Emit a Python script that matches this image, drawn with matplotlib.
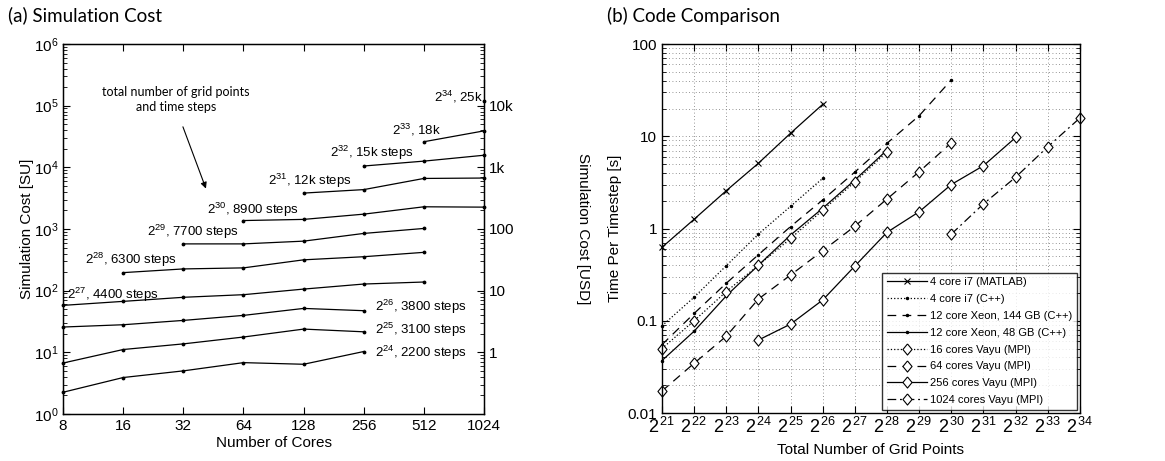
import math
import matplotlib
matplotlib.use('Agg')
import matplotlib.pyplot as plt
from matplotlib.ticker import FixedLocator, FuncFormatter, LogLocator, NullFormatter

plt.rcParams['font.family'] = ['Liberation Sans', 'DejaVu Sans']
plt.rcParams['mathtext.fontset'] = 'custom'
plt.rcParams['mathtext.rm'] = 'Liberation Sans'
plt.rcParams['mathtext.it'] = 'Liberation Sans:italic'
plt.rcParams['mathtext.bf'] = 'Liberation Sans:bold'

# ---------------- (a) simulation cost data ----------------
cores = [8, 16, 32, 64, 128, 256, 512, 1024]

cost_2_24 = [2.25, 3.9, 5.0, 6.8, 6.4, 10.3]          # 8 .. 256
cost_2_25 = [6.7, 11.1, 13.7, 17.7, 23.8, 21.5]       # 8 .. 256
cost_2_26 = [25.7, 28, 32.9, 39.7, 51.5, 47.3]        # 8 .. 256
cost_2_27 = [57.7, 67, 78, 86, 106, 128, 138]         # 8 .. 512
cost_2_28 = [196, 225, 234, 316, 355, 418]            # 16 .. 512
cost_2_29 = [573, 573, 635, 847, 1020]                # 32 .. 512
cost_2_30 = [1370, 1430, 1740, 2290, 2260]            # 64 .. 1024
cost_2_31 = [3820, 4350, 6600, 6700]                  # 128 .. 1024
cost_2_32 = [10500, 12600, 15700]                     # 256 .. 1024
cost_2_33 = [26000, 39000]                            # 512 .. 1024
cost_2_34 = [118000]                                  # 1024

# index of the first core count for each series
cost_series = [
    (0, cost_2_24), (0, cost_2_25), (0, cost_2_26), (0, cost_2_27),
    (1, cost_2_28), (2, cost_2_29), (3, cost_2_30), (4, cost_2_31),
    (5, cost_2_32), (6, cost_2_33), (7, cost_2_34),
]

cost_labels = [
    r'$2^{34}$, 25k', r'$2^{33}$, 18k', r'$2^{32}$, 15k steps',
    r'$2^{31}$, 12k steps', r'$2^{30}$, 8900 steps', r'$2^{29}$, 7700 steps',
    r'$2^{28}$, 6300 steps', r'$2^{27}$, 4400 steps', r'$2^{26}$, 3800 steps',
    r'$2^{25}$, 3100 steps', r'$2^{24}$, 2200 steps',
]
# label anchor points (cores, SU)
label_x = [1010, 356, 174, 85, 42, 21, 10.3, 8.35, 292, 292, 292]
label_y = [1.37e5, 3.98e4, 1.70e4, 6.0e3, 2.07e3, 8.9e2, 3.1e2, 8.6e1, 5.5e1, 2.32e1, 9.93]
label_ha = ['right', 'left', 'left', 'left', 'left', 'left', 'left', 'left', 'left', 'left', 'left']

usd_ticks = [1, 10, 100, 1000, 10000]
usd_labels = ['1', '10', '100', '1k', '10k']

# ---------------- (b) code comparison data ----------------
exp_matlab = [21, 22, 23, 24, 25, 26]
t_matlab = [0.625, 1.26, 2.57, 5.1, 10.8, 22.2]

exp_i7 = [21, 22, 23, 24, 25, 26]
t_i7 = [0.088, 0.18, 0.395, 0.87, 1.74, 3.5]

exp_xeon144 = [21, 22, 23, 24, 25, 26, 27, 28, 29, 30]
t_xeon144 = [0.055, 0.12, 0.255, 0.52, 1.05, 2.04, 4.1, 8.4, 16.7, 40.8]

exp_xeon48 = [21, 22, 23, 24, 25, 26, 27, 28]
t_xeon48 = [0.037, 0.077, 0.186, 0.40, 0.85, 1.66, 3.36, 7.1]

exp_v16 = [21, 22, 23, 24, 25, 26, 27, 28]
t_v16 = [0.05, 0.10, 0.207, 0.40, 0.78, 1.58, 3.2, 6.8]

exp_v64 = [21, 22, 23, 24, 25, 26, 27, 28, 29, 30]
t_v64 = [0.0173, 0.0346, 0.068, 0.172, 0.313, 0.575, 1.06, 2.09, 4.13, 8.5]

exp_v256 = [24, 25, 26, 27, 28, 29, 30, 31, 32]
t_v256 = [0.0618, 0.092, 0.168, 0.392, 0.91, 1.52, 3.0, 4.8, 9.7]

exp_v1024 = [30, 31, 32, 33, 34]
t_v1024 = [0.87, 1.85, 3.6, 7.7, 15.8]

legend_labels = ['4 core i7 (MATLAB)', '4 core i7 (C++)', '12 core Xeon, 144 GB (C++)',
                 '12 core Xeon, 48 GB (C++)', '16 cores Vayu (MPI)', '64 cores Vayu (MPI)',
                 '256 cores Vayu (MPI)', '1024 cores Vayu (MPI)']

grid_exps = list(range(21, 35))
time_ticks = [0.01, 0.1, 1, 10, 100]
time_tick_labels = ['0.01', '0.1', '1', '10', '100']

fig = plt.figure(figsize=(11.65, 4.61), dpi=100)

# ======================= panel (a) =======================
ax1 = fig.add_axes([0.0541, 0.102, 0.3614, 0.8026])
lw = 0.9
for start, vals in cost_series:
    xs = cores[start:start + len(vals)]
    ax1.plot(xs, vals, '-', color='k', lw=lw, marker='.', ms=3.5, clip_on=False)

ax1.set_xscale('log', base=2)
ax1.set_yscale('log')
ax1.set_xlim(8, 1024)
ax1.set_ylim(1, 1e6)
ax1.xaxis.set_major_locator(FixedLocator(cores))
ax1.xaxis.set_major_formatter(FuncFormatter(lambda v, p: '%d' % v))
ax1.xaxis.set_minor_locator(FixedLocator([]))
ax1.yaxis.set_major_locator(LogLocator(base=10, numticks=10))
ax1.yaxis.set_minor_locator(LogLocator(base=10, subs=range(2, 10), numticks=20))
ax1.yaxis.set_minor_formatter(NullFormatter())
ax1.tick_params(which='both', direction='in', top=True, right=False, labelsize=11)
ax1.tick_params(which='major', length=5, width=0.8)
ax1.tick_params(which='minor', length=3, width=0.6)
for s in ax1.spines.values():
    s.set_linewidth(1.0)
ax1.set_xlabel('Number of Cores', fontsize=11, labelpad=2)
ax1.set_ylabel('Simulation Cost [SU]', fontsize=11, labelpad=0)

for txt, x, y, ha in zip(cost_labels, label_x, label_y, label_ha):
    ax1.text(x, y, txt, fontsize=9.5, ha=ha, va='center')

ax1.annotate('', xy=(42, 4.1e3), xytext=(31.5, 5.0e4),
             arrowprops=dict(arrowstyle='-|>', color='k', lw=0.8, mutation_scale=9))
ax1.text(29.3, 1.28e5, 'total number of grid points\nand time steps', fontsize=9,
         family=['Lato', 'DejaVu Sans'], ha='center', va='center', linespacing=1.3)

ax1b = ax1.twinx()
ax1b.set_yscale('log')
ax1b.set_ylim(0.1, 1e5)
ax1b.yaxis.set_major_locator(FixedLocator(usd_ticks))
ax1b.yaxis.set_major_formatter(FuncFormatter(
    lambda v, p: usd_labels[usd_ticks.index(v)] if v in usd_ticks else ''))
ax1b.yaxis.set_minor_locator(LogLocator(base=10, subs=range(2, 10), numticks=20))
ax1b.yaxis.set_minor_formatter(NullFormatter())
ax1b.tick_params(which='both', direction='in', labelsize=11)
ax1b.tick_params(which='major', length=5, width=0.8)
ax1b.tick_params(which='minor', length=3, width=0.6)
ax1b.set_ylabel('Simulation Cost [USD]', fontsize=11, rotation=270, va='center')
ax1b.yaxis.set_label_coords(1.235, 0.5)

# ======================= panel (b) =======================
ax2 = fig.add_axes([0.5682, 0.1041, 0.3588, 0.8004])
ax2.set_xscale('log', base=2)
ax2.set_yscale('log')


def p2(e):
    return [2.0 ** k for k in e]


# MATLAB-like diamond, a bit taller than wide
diamond = [(0, 1), (0.82, 0), (0, -1), (-0.82, 0), (0, 1)]

ax2.plot(p2(exp_matlab), t_matlab, '-', color='k', lw=lw, marker='x', ms=5, mew=0.8,
         label=legend_labels[0], clip_on=False)
ax2.plot(p2(exp_i7), t_i7, ':', color='k', lw=lw, marker='.', ms=3,
         label=legend_labels[1], clip_on=False)
ax2.plot(p2(exp_xeon144), t_xeon144, color='k', lw=lw, ls=(0, (7, 5)), marker='.', ms=3,
         label=legend_labels[2], clip_on=False)
ax2.plot(p2(exp_xeon48), t_xeon48, '-', color='k', lw=lw, marker='.', ms=3,
         label=legend_labels[3], clip_on=False)
dkw = dict(marker=diamond, ms=8, mfc='white', mec='k', mew=0.8, color='k', lw=lw, clip_on=False)
ax2.plot(p2(exp_v16), t_v16, ls=':', label=legend_labels[4], **dkw)
ax2.plot(p2(exp_v64), t_v64, ls=(0, (7, 5)), label=legend_labels[5], **dkw)
ax2.plot(p2(exp_v256), t_v256, ls='-', label=legend_labels[6], **dkw)
ax2.plot(p2(exp_v1024), t_v1024, ls=(0, (7, 3, 1.5, 3)), label=legend_labels[7], **dkw)

ax2.set_xlim(2 ** 21, 2 ** 34)
ax2.set_ylim(0.01, 100)
ax2.xaxis.set_major_locator(FixedLocator(p2(grid_exps)))
ax2.xaxis.set_major_formatter(FuncFormatter(lambda v, p: r'$2^{\,%d}$' % round(math.log2(v))))
ax2.xaxis.set_minor_locator(FixedLocator([]))
ax2.yaxis.set_major_locator(FixedLocator(time_ticks))
ax2.yaxis.set_major_formatter(FuncFormatter(
    lambda v, p: time_tick_labels[time_ticks.index(v)] if v in time_ticks else ''))
ax2.yaxis.set_minor_locator(LogLocator(base=10, subs=range(2, 10), numticks=20))
ax2.yaxis.set_minor_formatter(NullFormatter())
ax2.tick_params(which='both', direction='in', top=True, right=True)
ax2.tick_params(axis='y', labelsize=11)
ax2.tick_params(axis='x', labelsize=13, pad=3)
ax2.tick_params(which='major', length=5, width=0.8)
ax2.tick_params(which='minor', length=3, width=0.6)
for s in ax2.spines.values():
    s.set_linewidth(1.0)
ax2.grid(True, which='major', axis='both', color='0.45', lw=0.6, ls=(0, (1, 3)))
ax2.grid(True, which='minor', axis='y', color='0.45', lw=0.6, ls=(0, (1, 3)))
ax2.set_axisbelow(True)
ax2.set_xlabel('Total Number of Grid Points', fontsize=11, labelpad=4)
ax2.set_ylabel('Time Per Timestep [s]', fontsize=11, labelpad=4)

leg = ax2.legend(loc='lower right', fontsize=8, frameon=True, fancybox=False,
                 handlelength=3.6, handletextpad=0.3, labelspacing=0.62,
                 borderaxespad=0.3, borderpad=0.4)
leg.get_frame().set_edgecolor('k')
leg.get_frame().set_linewidth(1.0)

# panel titles
fig.text(0.007, 0.966, '(a) Simulation Cost', fontsize=13.5, family=['Lato', 'DejaVu Sans'],
         ha='left', va='center')
fig.text(0.521, 0.966, '(b) Code Comparison', fontsize=13.5, family=['Lato', 'DejaVu Sans'],
         ha='left', va='center')

fig.savefig('out.png', dpi=100)
